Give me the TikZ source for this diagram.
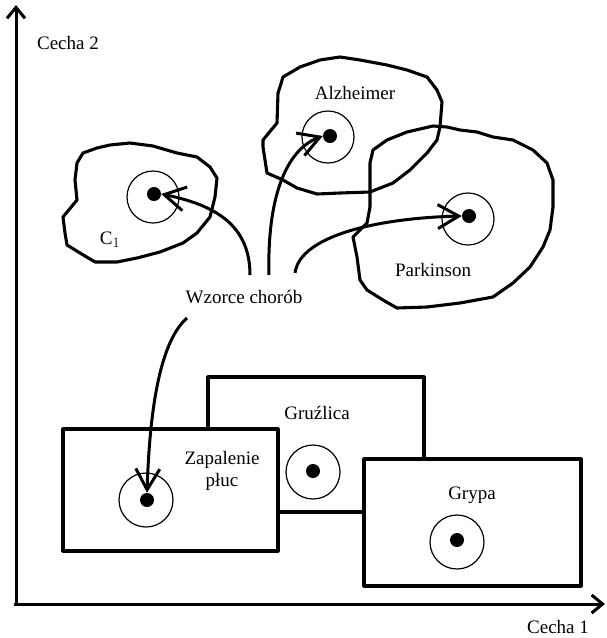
\documentclass[tikz,border=0pt]{standalone}
\usepackage{fontspec}
\setmainfont{Liberation Serif}
\usetikzlibrary{arrows.meta}
\begin{document}
\begin{tikzpicture}[x=1pt,y=-1pt,
  thick line/.style={line width=3.1pt, line join=round},
  blob/.style={thick line},
  box/.style={thick line, fill=white},
  ring/.style={line width=1.2pt},
  dot/.style={circle, fill=black, inner sep=0pt, minimum size=14pt},
  lbl/.style={font=\fontsize{19}{22}\selectfont, inner sep=1pt},
  conn/.style={line width=3pt, -{Straight Barb[length=21pt,width=24pt,line width=3pt]}},
  axis/.style={line width=3pt, -{Straight Barb[length=11pt,width=18pt,line width=3pt]}}
]
\useasboundingbox (0,0) rectangle (607,638);

% axes
\coordinate (o) at (16,604);
\coordinate (ytop) at (16,5);
\coordinate (xend) at (605,604);
\draw[axis] (16,606) -- (ytop);
\draw[axis] (14,604) -- (xend);
\node[lbl] (c2) at (68,43) {Cecha 2};
\node[lbl] (c1) at (558,627) {Cecha 1};

% blobs
\draw[blob] (77,163) -- (83,153) -- (97,148) -- (110,145) -- (130,143) -- (153,146) -- (177,153) -- (197,157) -- (210,167) -- (217,178) -- (215,197) -- (210,217) -- (197,233) -- (183,243) -- (160,252) -- (137,258) -- (117,262) -- (95,262) -- (80,253) -- (67,245) -- (65,233) -- (63,217) -- (77,200) -- (75,180) -- cycle;
\draw[blob] (280,87) -- (283,77) -- (300,67) -- (320,60) -- (340,57) -- (360,60) -- (387,65) -- (407,70) -- (427,77) -- (437,90) -- (442,102) -- (440,127) -- (437,140) -- (427,153) -- (410,170) -- (393,183) -- (370,192) -- (340,193) -- (317,194) -- (297,188) -- (283,180) -- (267,173) -- (263,147) -- (263,140) -- (277,123) -- (278,93) -- cycle;
\draw[blob] (373,150) -- (387,140) -- (407,132) -- (433,126) -- (447,127) -- (460,130) -- (477,132) -- (493,137) -- (513,140) -- (533,150) -- (547,163) -- (553,180) -- (553,207) -- (550,230) -- (543,247) -- (530,267) -- (513,283) -- (493,297) -- (460,303) -- (427,307) -- (397,308) -- (383,300) -- (367,290) -- (360,280) -- (357,257) -- (353,237) -- (367,223) -- (370,207) -- (370,183) -- (370,163) -- cycle;

% blob labels and patterns
\node[lbl] (alz) at (355,93) {Alzheimer};
\node[lbl] (park) at (433,270) {Parkinson};
\node[lbl] (cone) at (110,240) {C$_1$};
\draw[ring] (153,197) circle (26);
\node[dot] (dC) at (154,194) {};
\draw[ring] (328,137) circle (26);
\node[dot] (dA) at (330,136) {};
\draw[ring] (468,219) circle (26);
\node[dot] (dP) at (469,216) {};

% boxes
\draw[box] (208,377) rectangle (424,512);
\node[lbl] (gru) at (317,413) {Gruźlica};
\draw[ring] (313,472) circle (27);
\node[dot] (dG) at (313,471) {};
\draw[box] (63,429) rectangle (278,551);
\node[lbl, align=center] (zap) at (222,471) {Zapalenie\\płuc};
\draw[ring] (146,500) circle (27);
\node[dot] (dZ) at (147,500) {};
\draw[box] (364,459) rectangle (581,586);
\node[lbl] (gry) at (472,495) {Grypa};
\draw[ring] (457,542) circle (27);
\node[dot] (dY) at (457,540) {};

% patterns label and connectors
\node[lbl] (wz) at (244,297) {Wzorce chorób};
\coordinate (s1) at (250,275);
\coordinate (s2) at (269,275);
\coordinate (s3) at (295,273);
\coordinate (s4) at (187,318);
\draw[conn] (s1) .. controls (250,225) and (215,205) .. (dC.east);
\draw[conn] (s2) .. controls (267,200) and (285,150) .. (dA.west);
\draw[conn] (s3) .. controls (300,235) and (380,218) .. (dP.west);
\draw[conn] (s4) .. controls (162,340) and (150,400) .. (dZ.north);
\end{tikzpicture}
\end{document}
